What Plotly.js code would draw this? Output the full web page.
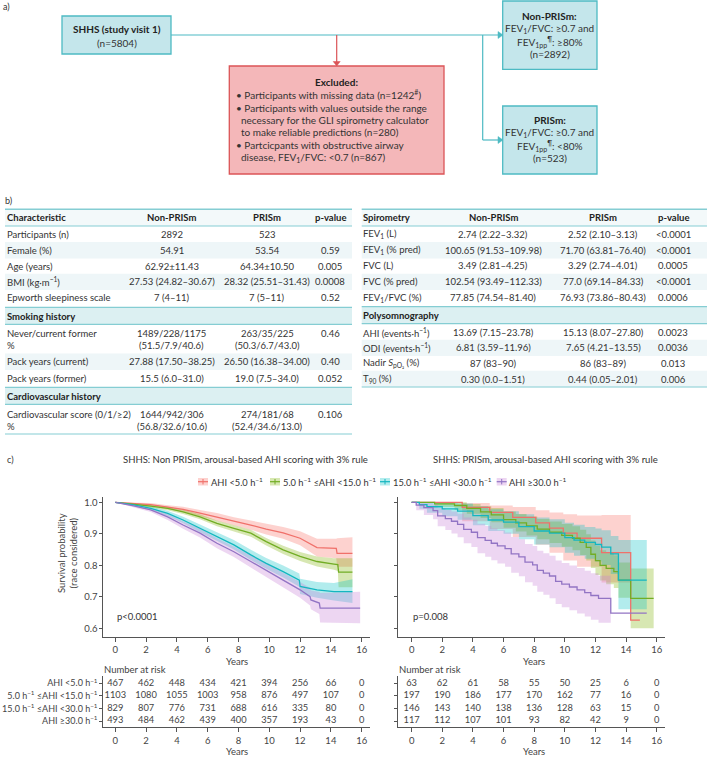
<!DOCTYPE html>
<html><head><meta charset="utf-8">
<script src="https://cdn.plot.ly/plotly-3.0.1.min.js"></script>
<style>html,body{margin:0;padding:0;background:#fff}</style>
</head><body><div id="chart" style="width:708px;height:758px"></div>
<script>
// ================= DATA =================
// group labels
const groupLabels = ['AHI &lt;5.0 h<sup>−1</sup>', '5.0 h<sup>−1</sup> ≤AHI &lt;15.0 h<sup>−1</sup>', '15.0 h<sup>−1</sup> ≤AHI &lt;30.0 h<sup>−1</sup>', 'AHI ≥30.0 h<sup>−1</sup>'];
const kmTitleNon = 'SHHS: Non PRISm, arousal-based AHI scoring with 3% rule';
const kmTitlePri = 'SHHS: PRISm, arousal-based AHI scoring with 3% rule';
const pNon = 'p&lt;0.0001';
const pPri = 'p=0.008';

// number at risk
const riskTimes = [0, 2, 4, 6, 8, 10, 12, 14, 16];
const riskNon_ahi5  = [467, 462, 448, 434, 421, 394, 256, 66, 0];
const riskNon_ahi15 = [1103, 1080, 1055, 1003, 958, 876, 497, 107, 0];
const riskNon_ahi30 = [829, 807, 776, 731, 688, 616, 335, 80, 0];
const riskNon_ahiHi = [493, 484, 462, 439, 400, 357, 193, 43, 0];
const riskPri_ahi5  = [63, 62, 61, 58, 55, 50, 25, 6, 0];
const riskPri_ahi15 = [197, 190, 186, 177, 170, 162, 77, 16, 0];
const riskPri_ahi30 = [146, 143, 140, 138, 136, 128, 63, 15, 0];
const riskPri_ahiHi = [117, 112, 107, 101, 93, 82, 42, 9, 0];

// KM: Non-PRISm (survival, lower CI, upper CI)
const nonT_ahi5  = [0, 1.2, 2.3, 3.3, 4.4, 5.5, 6.6, 7.7, 8.8, 9.8, 10.9, 12.0, 12.6, 13.1, 14.35, 14.4, 15.4];
const nonS_ahi5  = [1, .997, .993, .986, .978, .966, .954, .940, .928, .915, .903, .886, .870, .856, .854, .838, .838];
const nonLo_ahi5 = [1, .994, .988, .980, .970, .956, .942, .927, .913, .898, .884, .864, .845, .828, .822, .795, .795];
const nonHi_ahi5 = [1, 1, .998, .992, .986, .976, .966, .953, .943, .932, .922, .908, .895, .884, .884, .886, .889];

const nonT_ahi15  = [0, 1.2, 2.3, 3.4, 4.4, 5.5, 6.6, 7.7, 8.8, 9.8, 10.9, 12.0, 13.1, 14.2, 14.45, 14.5, 15.4];
const nonS_ahi15  = [1, .995, .988, .981, .970, .954, .933, .917, .902, .875, .849, .828, .812, .804, .802, .778, .778];
const nonLo_ahi15 = [1, .992, .984, .975, .963, .946, .924, .907, .891, .863, .836, .814, .796, .786, .782, .730, .730];
const nonHi_ahi15 = [1, .998, .992, .986, .977, .962, .942, .927, .913, .887, .862, .842, .828, .822, .822, .822, .822];

const nonT_ahi30  = [0, 1.2, 2.3, 3.4, 4.4, 5.5, 6.6, 7.7, 8.8, 9.8, 10.9, 11.95, 12.0, 13.1, 14.2, 15.4];
const nonS_ahi30  = [1, .992, .981, .965, .944, .917, .891, .865, .833, .806, .780, .753, .733, .722, .716, .716];
const nonLo_ahi30 = [1, .987, .975, .957, .934, .905, .877, .850, .817, .789, .761, .732, .709, .697, .688, .680];
const nonHi_ahi30 = [1, .996, .987, .973, .954, .929, .905, .880, .849, .823, .799, .774, .757, .747, .744, .756];

const nonT_ahiHi  = [0, 1.2, 2.3, 3.4, 4.4, 5.5, 6.6, 7.7, 8.8, 9.8, 10.9, 12.0, 12.65, 12.7, 13.25, 13.3, 15.9];
const nonS_ahiHi  = [1, .989, .976, .954, .928, .902, .870, .843, .812, .785, .753, .722, .700, .690, .680, .664, .664];
const nonLo_ahiHi = [1, .984, .969, .944, .916, .888, .854, .826, .793, .764, .730, .697, .672, .660, .645, .618, .616];
const nonHi_ahiHi = [1, .994, .983, .963, .940, .916, .886, .860, .831, .806, .776, .747, .728, .720, .715, .712, .716];

// KM: PRISm
const priT_ahi5  = [0, 3.3, 5.1, 6.6, 8.1, 9.0, 9.9, 10.8, 12.4, 14.3, 14.9];
const priS_ahi5  = [1, .984, .968, .952, .935, .918, .902, .886, .840, .626, .626];
const priLo_ahi5 = [1, .940, .915, .890, .865, .840, .815, .795, .745, .745, null];
const priHi_ahi5 = [1, .998, .990, .985, .975, .968, .962, .958, .960, .960, null];

const priT_ahi15  = [0, 1.5, 2.8, 3.6, 4.5, 5.2, 6.0, 6.8, 7.5, 8.2, 9.0, 9.8, 10.5, 11.0, 11.4, 11.7, 12.0, 12.3, 12.7, 13.2, 13.5, 14.3, 15.8];
const priS_ahi15  = [1, .995, .990, .981, .970, .960, .945, .935, .925, .915, .905, .895, .886, .873, .857, .835, .815, .800, .790, .780, .753, .695, .695];
const priLo_ahi15 = [1, .985, .976, .964, .950, .937, .919, .907, .895, .883, .871, .859, .848, .833, .815, .791, .769, .752, .740, .728, .697, .600, .600];
const priHi_ahi15 = [1, 1, 1, .995, .988, .982, .971, .963, .955, .947, .939, .931, .924, .913, .899, .879, .861, .848, .840, .832, .809, .790, .790];

const priT_ahi30  = [0, 0.5, 1.0, 2.0, 3.0, 4.0, 5.0, 6.0, 7.0, 8.0, 9.0, 10.0, 10.6, 11.3, 12.0, 12.4, 13.0, 13.5, 15.35];
const priS_ahi30  = [1, .993, .986, .979, .972, .958, .944, .937, .923, .909, .902, .888, .880, .873, .866, .858, .836, .753, .753];
const priLo_ahi30 = [1, .980, .967, .956, .945, .927, .909, .900, .883, .866, .857, .840, .830, .821, .812, .801, .772, .660, .648];
const priHi_ahi30 = [1, 1, 1, .999, .996, .988, .978, .972, .962, .952, .946, .935, .929, .922, .917, .911, .893, .880, .880];

const priT_ahiHi  = [0, 0.3, 0.8, 1.4, 1.7, 2.2, 2.6, 3.0, 3.4, 3.9, 4.3, 4.8, 5.2, 5.6, 6.1, 6.5, 7.0, 7.4, 7.9, 8.2, 8.6, 9.0, 9.4, 9.8, 10.3, 10.8, 11.3, 11.7, 12.2, 13.0, 15.35];
const priS_ahiHi  = [1, .991, .983, .974, .957, .948, .940, .930, .914, .905, .888, .879, .870, .862, .853, .836, .827, .810, .801, .784, .775, .766, .749, .740, .731, .722, .713, .704, .695, .648, .648];
const priLo_ahiHi = [1, .975, .960, .946, .924, .912, .901, .889, .870, .858, .838, .827, .816, .806, .795, .776, .765, .746, .735, .716, .706, .695, .677, .667, .657, .647, .637, .627, .617, .560, null];
const priHi_ahiHi = [1, 1, .999, .994, .982, .976, .971, .964, .952, .945, .932, .925, .917, .911, .904, .890, .883, .868, .861, .846, .838, .830, .815, .807, .799, .791, .783, .775, .767, .740, null];

// Table b) left
const tblLeftHead = ['Characteristic', 'Non-PRISm', 'PRISm', 'p-value'];
const baseLabels = ['Participants (n)', 'Female (%)', 'Age (years)', 'BMI (kg·m<sup>−1</sup>)', 'Epworth sleepiness scale'];
const baseNon    = ['2892', '54.91', '62.92±11.43', '27.53 (24.82–30.67)', '7 (4–11)'];
const basePri    = ['523', '53.54', '64.34±10.50', '28.32 (25.51–31.43)', '7 (5–11)'];
const baseP      = ['', '0.59', '0.005', '0.0008', '0.52'];
const smokeTitle = 'Smoking history';
const smokeLabels = ['Never/current former\n%', 'Pack years (current)', 'Pack years (former)'];
const smokeNon    = ['1489/228/1175\n(51.5/7.9/40.6)', '27.88 (17.50–38.25)', '15.5 (6.0–31.0)'];
const smokePri    = ['263/35/225\n(50.3/6.7/43.0)', '26.50 (16.38–34.00)', '19.0 (7.5–34.0)'];
const smokeP      = ['0.46', '0.40', '0.052'];
const cvTitle = 'Cardiovascular history';
const cvLabels = ['Cardiovascular score (0/1/≥2)\n%'];
const cvNon    = ['1644/942/306\n(56.8/32.6/10.6)'];
const cvPri    = ['274/181/68\n(52.4/34.6/13.0)'];
const cvP      = ['0.106'];

// Table b) right
const tblRightHead = ['Spirometry', 'Non-PRISm', 'PRISm', 'p-value'];
const spiroLabels = ['FEV<sub>1</sub> (L)', 'FEV<sub>1</sub> (% pred)', 'FVC (L)', 'FVC (% pred)', 'FEV<sub>1</sub>/FVC (%)'];
const spiroNon    = ['2.74 (2.22–3.32)', '100.65 (91.53–109.98)', '3.49 (2.81–4.25)', '102.54 (93.49–112.33)', '77.85 (74.54–81.40)'];
const spiroPri    = ['2.52 (2.10–3.13)', '71.70 (63.81–76.40)', '3.29 (2.74–4.01)', '77.0 (69.14–84.33)', '76.93 (73.86–80.43)'];
const spiroP      = ['&lt;0.0001', '&lt;0.0001', '0.0005', '&lt;0.0001', '0.0006'];
const psgTitle = 'Polysomnography';
const psgLabels = ['AHI (events·h<sup>−1</sup>)', 'ODI (events·h<sup>−1</sup>)', 'Nadir <i>S</i><sub>pO₂</sub> (%)', 'T<sub>90</sub> (%)'];
const psgNon    = ['13.69 (7.15–23.78)', '6.81 (3.59–11.96)', '87 (83–90)', '0.30 (0.0–1.51)'];
const psgPri    = ['15.13 (8.07–27.80)', '7.65 (4.21–13.55)', '86 (83–89)', '0.44 (0.05–2.01)'];
const psgP      = ['0.0023', '0.0036', '0.013', '0.006'];

// Flowchart a)
const shhsText = ['<b>SHHS (study visit 1)</b>', '(n=5804)'];
const nonBoxText = ['<b>Non-PRISm:</b>', 'FEV<sub>1</sub>/FVC: ≥0.7 and', 'FEV<sub>1pp</sub><sup>¶</sup>: ≥80%', '(n=2892)'];
const priBoxText = ['<b>PRISm:</b>', 'FEV<sub>1</sub>/FVC: ≥0.7 and', 'FEV<sub>1pp</sub><sup>¶</sup>: &lt;80%', '(n=523)'];
const exclTitle = '<b>Excluded:</b>';
const exclItems = [
  ['Participants with missing data (n=1242<sup>#</sup>)'],
  ['Participants with values outside the range', 'necessary for the GLI spirometry calculator', 'to make reliable predictions (n=280)'],
  ['Partcicpants with obstructive airway', 'disease, FEV<sub>1</sub>/FVC: &lt;0.7 (n=867)']
];

// ================= LAYOUT HELPERS =================
const W = 708, H = 758;
const X = px => px / W;
const Y = py => 1 - py / H;
const FONT = 'Lato, "Open Sans", sans-serif';
const annotations = [];
const shapes = [];
function txt(x, y, text, o) {
  o = o || {};
  annotations.push({xref: 'paper', yref: 'paper', x: X(x), y: Y(y), text: text, showarrow: false,
    xanchor: o.xa || 'left', yanchor: 'middle', textangle: o.angle || 0, borderpad: 0,
    font: {family: FONT, size: o.size || 10, color: o.color || '#333'}});
}
function rect(x0, y0, x1, y1, fill, line, lw) {
  shapes.push({type: 'rect', xref: 'paper', yref: 'paper', x0: X(x0), x1: X(x1), y0: Y(y0), y1: Y(y1),
    fillcolor: fill || 'rgba(0,0,0,0)', line: {color: line || 'rgba(0,0,0,0)', width: lw || 0}, layer: 'below'});
}
function seg(x0, y0, x1, y1, color, w) {
  shapes.push({type: 'line', xref: 'paper', yref: 'paper', x0: X(x0), x1: X(x1), y0: Y(y0), y1: Y(y1),
    line: {color: color, width: w || 1}});
}
function tri(pts, color) {
  const d = 'M' + pts.map(p => X(p[0]) + ',' + Y(p[1])).join(' L') + ' Z';
  shapes.push({type: 'path', xref: 'paper', yref: 'paper', path: d, fillcolor: color, line: {color: color, width: 0.5}});
}

// ================= a) FLOWCHART =================
const TEAL = '#4dbac3', TEALFILL = '#c4e6eb', REDL = '#db5457', REDFILL = '#f4b7b9';
txt(2, 7, 'a)', {size: 9});
rect(62, 16, 171, 54, TEALFILL, TEAL, 1.3);
txt(116.5, 29, shhsText[0], {xa: 'center', color: '#222'});
txt(116.5, 42.7, shhsText[1], {xa: 'center'});
seg(171, 35, 498, 35, TEAL, 1.2);
tri([[498, 31.5], [503, 35], [498, 38.5]], TEAL);
seg(482.7, 35, 482.7, 140, TEAL, 1.2);
seg(482.7, 140, 498, 140, TEAL, 1.2);
tri([[498, 136.5], [503, 140], [498, 143.5]], TEAL);
seg(336.7, 35, 336.7, 62, REDL, 1.2);
tri([[333.2, 61.5], [340.2, 61.5], [336.7, 66]], REDL);
rect(229.3, 66, 444, 174, REDFILL, REDL, 1.3);
txt(336.7, 81.7, exclTitle, {xa: 'center', color: '#222'});
const exclYs = [94.3, 108.4, 120.2, 132, 145.2, 157.4];
let li = 0;
exclItems.forEach(item => {
  item.forEach((line, k) => {
    if (k === 0) txt(234.5, exclYs[li], '• ' + line, {});
    else txt(239.6, exclYs[li], line, {});
    li++;
  });
});
rect(502.7, 1, 597, 69.3, TEALFILL, TEAL, 1.3);
rect(502.7, 106, 597, 174, TEALFILL, TEAL, 1.3);
const boxYs1 = [16, 28.7, 41.7, 54.2];
const boxYs2 = [120, 133, 145.7, 158.3];
nonBoxText.forEach((t, i) => txt(549.8, boxYs1[i], t, {xa: 'center', color: i === 0 ? '#222' : '#333'}));
priBoxText.forEach((t, i) => txt(549.8, boxYs2[i], t, {xa: 'center', color: i === 0 ? '#222' : '#333'}));

// ================= b) TABLES =================
const LINE = '#85cdd3', SHADE = '#eef6f8', SECSHADE = '#dcf0f2', HEADSHADE = '#f3f9fa';
const TS = 9.5;
txt(4, 200.7, 'b)', {size: 9});
const LINEGAP = 12.4;
function multi(x, y, s, o) {
  s.split('\n').forEach((part, k) => txt(x, y + k * LINEGAP, part, o));
}
function drawTable(cols, x0, x1, head, blocks) {
  rect(x0, 209.3, x1, 226, HEADSHADE);
  seg(x0, 209.3, x1, 209.3, LINE, 1.6);
  seg(x0, 226, x1, 226, LINE, 1.2);
  head.forEach((h, i) => txt(cols[i], 217.7, '<b>' + h + '</b>', {xa: i === 0 ? 'left' : 'center', color: '#222', size: TS}));
  blocks.forEach(b => {
    if (b.title) {
      rect(x0, b.top, x1, b.top + 17, SECSHADE);
      seg(x0, b.top, x1, b.top, LINE, 1.2);
      seg(x0, b.top + 17, x1, b.top + 17, LINE, 1.2);
      txt(cols[0], b.top + 8.7, '<b>' + b.title + '</b>', {color: '#222', size: TS});
    }
    b.labels.forEach((lab, r) => {
      const y = b.ys[r];
      if (b.shade.indexOf(r) >= 0) rect(x0, y - 8.2, x1, y + 8.2, SHADE);
      multi(cols[0], y, lab, {size: TS});
      multi(cols[1], y, b.non[r], {xa: 'center', size: TS});
      multi(cols[2], y, b.pri[r], {xa: 'center', size: TS});
      multi(cols[3], y, b.p[r], {xa: 'center', size: TS});
    });
  });
}
drawTable([6, 171.7, 267.3, 330], 5, 352, tblLeftHead, [
  {labels: baseLabels, non: baseNon, pri: basePri, p: baseP, ys: [234, 250.3, 266.3, 281.9, 297.7], shade: [1, 3]},
  {title: smokeTitle, top: 307.3, labels: smokeLabels, non: smokeNon, pri: smokePri, p: smokeP, ys: [333.3, 361.7, 378.3], shade: [1]},
  {title: cvTitle, top: 387.3, labels: cvLabels, non: cvNon, pri: cvPri, p: cvP, ys: [414], shade: []}
]);
seg(5, 434, 352, 434, LINE, 1.2);
drawTable([362.3, 493.3, 603.3, 673.3], 361.7, 707, tblRightHead, [
  {labels: spiroLabels, non: spiroNon, pri: spiroPri, p: spiroP, ys: [234, 250.3, 266, 281.9, 297.7], shade: [1, 3]},
  {title: psgTitle, top: 306.7, labels: psgLabels, non: psgNon, pri: psgPri, p: psgP, ys: [332.7, 347.9, 363.3, 379], shade: [1, 3]}
]);
seg(361.7, 387, 707, 387, LINE, 1.2);

// ================= c) KM =================
txt(6, 459, 'c)', {size: 9});
txt(245, 459, kmTitleNon, {xa: 'center', color: '#333', size: 9.5});
txt(545, 459, kmTitlePri, {xa: 'center', color: '#333', size: 9.5});

const COLORS = ['#f0706a', '#72ad24', '#14b6c0', '#9274c4'];
const FILLS = ['rgba(248,118,109,0.33)', 'rgba(124,174,0,0.30)', 'rgba(0,191,196,0.30)', 'rgba(200,130,215,0.33)'];

// legend (manual, compact)
const legX = [198, 270, 380, 496.7];
groupLabels.forEach((g, i) => {
  rect(legX[i], 478, legX[i] + 10, 485.5, FILLS[i]);
  seg(legX[i], 481.7, legX[i] + 10, 481.7, COLORS[i], 1.2);
  seg(legX[i] + 5, 479, legX[i] + 5, 484.4, COLORS[i], 1);
  txt(legX[i] + 11.5, 481.7, g, {color: '#333', size: 9.3});
});

const traces = [];
function addKM(t, s, lo, hi, i, xa, ya, shape) {
  traces.push({x: t, y: lo, xaxis: xa, yaxis: ya, mode: 'lines', line: {width: 0, shape: shape, color: FILLS[i]},
    hoverinfo: 'skip', showlegend: false});
  traces.push({x: t, y: hi, xaxis: xa, yaxis: ya, mode: 'lines', line: {width: 0, shape: shape, color: FILLS[i]},
    fill: 'tonexty', fillcolor: FILLS[i], hoverinfo: 'skip', showlegend: false});
}
function addLine(t, s, i, xa, ya, shape) {
  traces.push({x: t, y: s, xaxis: xa, yaxis: ya, mode: 'lines', line: {width: 1.3, shape: shape, color: COLORS[i]},
    showlegend: false, hoverinfo: 'x+y'});
}
const nonSets = [[nonT_ahi5, nonS_ahi5, nonLo_ahi5, nonHi_ahi5], [nonT_ahi15, nonS_ahi15, nonLo_ahi15, nonHi_ahi15],
  [nonT_ahi30, nonS_ahi30, nonLo_ahi30, nonHi_ahi30], [nonT_ahiHi, nonS_ahiHi, nonLo_ahiHi, nonHi_ahiHi]];
const priSets = [[priT_ahi5, priS_ahi5, priLo_ahi5, priHi_ahi5], [priT_ahi15, priS_ahi15, priLo_ahi15, priHi_ahi15],
  [priT_ahi30, priS_ahi30, priLo_ahi30, priHi_ahi30], [priT_ahiHi, priS_ahiHi, priLo_ahiHi, priHi_ahiHi]];
nonSets.forEach((d, i) => addKM(d[0], d[1], d[2], d[3], i, 'x', 'y', 'linear'));
nonSets.forEach((d, i) => addLine(d[0], d[1], i, 'x', 'y', 'linear'));
priSets.forEach((d, i) => addKM(d[0], d[1], d[2], d[3], i, 'x2', 'y2', 'hv'));
priSets.forEach((d, i) => addLine(d[0], d[1], i, 'x2', 'y2', 'hv'));

// risk tables
const riskNon = [riskNon_ahi5, riskNon_ahi15, riskNon_ahi30, riskNon_ahiHi];
const riskPri = [riskPri_ahi5, riskPri_ahi15, riskPri_ahi30, riskPri_ahiHi];
function addRisk(rows, xa, ya) {
  rows.forEach((r, i) => traces.push({x: riskTimes, y: riskTimes.map(() => 4 - i), text: r.map(String), mode: 'text',
    xaxis: xa, yaxis: ya, textfont: {family: FONT, size: 9.3, color: '#444'}, textposition: 'middle center',
    hoverinfo: 'skip', showlegend: false, cliponaxis: false}));
}
addRisk(riskNon, 'x3', 'y3');
addRisk(riskPri, 'x4', 'y4');

txt(116, 616, pNon, {color: '#333', size: 9.5});
txt(412, 616, pPri, {color: '#333', size: 9.5});
txt(236.5, 661, 'Years', {xa: 'center', color: '#444', size: 9.5});
txt(534, 661, 'Years', {xa: 'center', color: '#444', size: 9.5});
txt(236.5, 751.5, 'Years', {xa: 'center', color: '#444', size: 9.5});
txt(534, 751.5, 'Years', {xa: 'center', color: '#444', size: 9.5});
txt(67, 553, 'Survival probability<br>(race considered)', {xa: 'center', angle: -90, color: '#444', size: 9.5});
txt(103.3, 669.3, 'Number at risk', {color: '#444', size: 9.5});
txt(398.3, 669.3, 'Number at risk', {color: '#444', size: 9.5});

const axBase = {showline: true, linecolor: '#555', linewidth: 1, ticks: 'outside', ticklen: 4, tickcolor: '#555',
  tickfont: {family: FONT, size: 9.5, color: '#444'}, showgrid: false, zeroline: false, fixedrange: true};
const kmY = [Y(636.7), Y(496.7)];
const rkY = [Y(727.3), Y(676)];
const xTicks = {tickmode: 'array', tickvals: riskTimes, ticktext: riskTimes.map(String)};
const layout = {
  width: W, height: H, margin: {l: 0, r: 0, t: 0, b: 0}, paper_bgcolor: '#fff', plot_bgcolor: 'rgba(0,0,0,0)',
  showlegend: false, font: {family: FONT},
  xaxis:  Object.assign({}, axBase, xTicks, {domain: [X(103.3), X(370)], range: [-0.78, 16.54], anchor: 'y'}),
  yaxis:  Object.assign({}, axBase, {domain: kmY, range: [0.573, 1.018], anchor: 'x', tickvals: [0.6, 0.7, 0.8, 0.9, 1.0], tickformat: '.1f', ticklen: 3}),
  xaxis2: Object.assign({}, axBase, xTicks, {domain: [X(398.3), X(665)], range: [-0.87, 16.54], anchor: 'y2'}),
  yaxis2: Object.assign({}, axBase, {domain: kmY, range: [0.573, 1.018], anchor: 'x2', tickvals: [0.6, 0.7, 0.8, 0.9, 1.0], showticklabels: false, ticklen: 3}),
  xaxis3: Object.assign({}, axBase, xTicks, {domain: [X(103.3), X(370)], range: [-0.78, 16.54], anchor: 'y3'}),
  yaxis3: Object.assign({}, axBase, {domain: rkY, range: [0.5, 4.58], anchor: 'x3', tickmode: 'array', tickvals: [4, 3, 2, 1], ticktext: groupLabels, ticklen: 3,
    tickfont: {family: FONT, size: 9, color: '#444'}}),
  xaxis4: Object.assign({}, axBase, xTicks, {domain: [X(398.3), X(665)], range: [-0.87, 16.54], anchor: 'y4'}),
  yaxis4: Object.assign({}, axBase, {domain: rkY, range: [0.5, 4.58], anchor: 'x4', tickvals: [4, 3, 2, 1], showticklabels: false, ticklen: 3}),
  annotations: annotations, shapes: shapes
};
Plotly.newPlot('chart', traces, layout, {displayModeBar: false, staticPlot: true});
</script></body></html>
